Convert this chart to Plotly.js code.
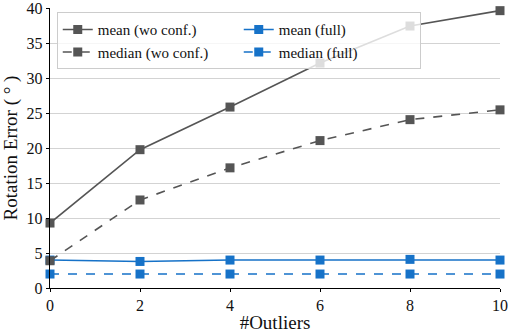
<!DOCTYPE html>
<html><head><meta charset="utf-8">
<script src="https://cdn.plot.ly/plotly-3.0.1.min.js"></script>
<style>html,body{margin:0;padding:0;background:#fff}#chart{width:508px;height:333px}</style>
</head><body><div id="chart"></div>
<script>
const outliers = [0, 2, 4, 6, 8, 10];
const meanWoConf = [9.3, 19.8, 25.9, 32.2, 37.5, 39.7];
const medianWoConf = [3.9, 12.6, 17.2, 21.1, 24.1, 25.5];
const meanFull = [4.0, 3.8, 4.0, 4.0, 4.1, 4.0];
const medianFull = [2.0, 2.0, 2.0, 2.0, 2.0, 2.0];
const yTicks = [0, 5, 10, 15, 20, 25, 30, 35, 40];
const gray = '#555555', blue = '#1672c8';
const serif = 'Liberation Serif';
function tr(name, y, color, dash){
  return {x: outliers, y: y, name: name, type: 'scatter', mode: 'lines+markers',
    cliponaxis: false,
    line: {color: color, width: 1.6, dash: dash},
    marker: {symbol: 'square', size: 9, color: color}};
}
const data = [
  tr('mean (wo conf.)', meanWoConf, gray, 'solid'),
  tr('mean (full)', meanFull, blue, 'solid'),
  tr('median (wo conf.)', medianWoConf, gray, 'dash'),
  tr('median (full)', medianFull, blue, 'dash')
];
const layout = {
  width: 508, height: 333,
  margin: {l: 50, r: 8, t: 8, b: 45},
  paper_bgcolor: '#fff', plot_bgcolor: '#fff',
  font: {family: serif, color: '#222'},
  showlegend: true,
  legend: {orientation: 'h', x: 0.015, y: 0.985, xanchor: 'left', yanchor: 'top',
    entrywidth: 136, entrywidthmode: 'pixels',
    bordercolor: '#cccccc', borderwidth: 1, bgcolor: 'rgba(255,255,255,0.8)',
    font: {family: serif, size: 15, color: '#111'}, tracegroupgap: 0},
  xaxis: {range: [0, 10], tickvals: outliers, showgrid: false, zeroline: false,
    showline: true, linecolor: '#000', linewidth: 1.2,
    ticks: 'outside', ticklen: 3, tickcolor: '#000',
    tickfont: {family: serif, size: 16, color: '#111'},
    title: {text: '#Outliers', font: {family: serif, size: 19, color: '#111'}, standoff: 4}},
  yaxis: {range: [0, 40.08], tickvals: yTicks, showgrid: true, gridcolor: '#d3d3d3', gridwidth: 1,
    zeroline: false, showline: true, linecolor: '#000', linewidth: 1.2,
    ticks: 'outside', ticklen: 3, tickcolor: '#000', ticklabeloverflow: 'allow',
    tickfont: {family: serif, size: 16, color: '#111'},
    title: {text: 'Rotation Error ( ° )', font: {family: serif, size: 19, color: '#111'}, standoff: 4}}
};
Plotly.newPlot('chart', data, layout, {staticPlot: true, displayModeBar: false});
</script></body></html>
